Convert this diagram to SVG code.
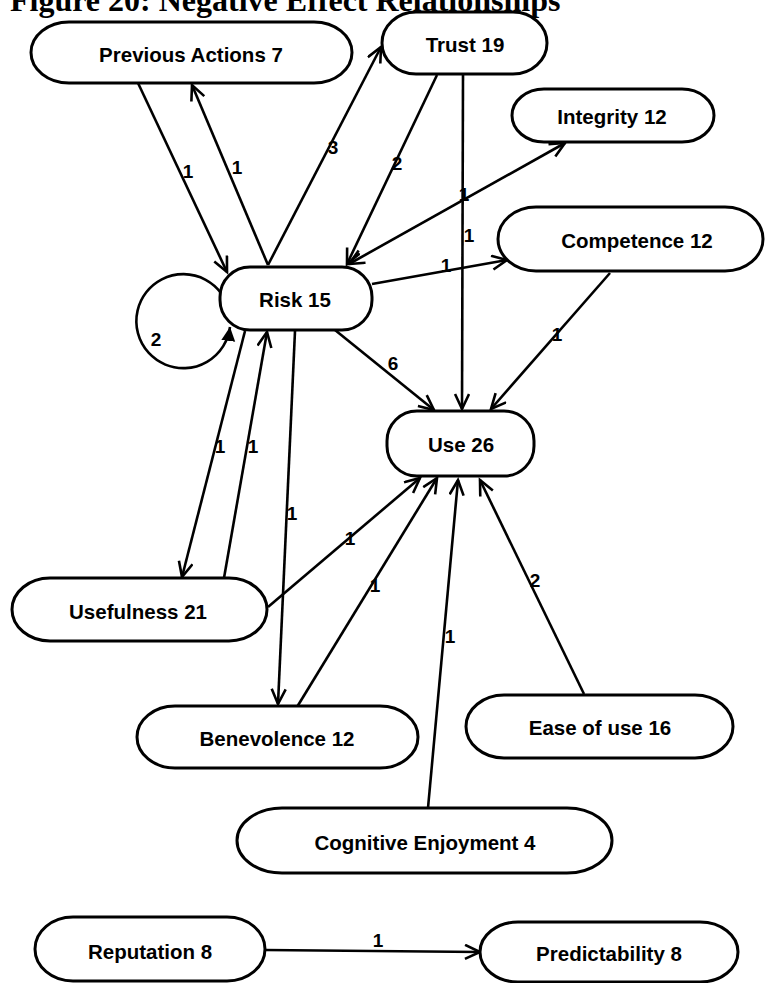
<svg xmlns="http://www.w3.org/2000/svg" width="772" height="983" viewBox="0 0 772 983">
  <style>
    .node rect { fill: #ffffff; stroke: #000000; stroke-width: 3; }
    .node text { font-family: "Liberation Sans", Arial, sans-serif; font-weight: bold; font-size: 20.5px; fill: #000000; text-anchor: middle; }
    .edge { fill: none; stroke: #000000; stroke-width: 2.6; }
    .lbl { font-family: "Liberation Sans", Arial, sans-serif; font-weight: bold; font-size: 19px; fill: #000000; text-anchor: middle; }
    .title { font-family: "Liberation Serif", "Times New Roman", serif; font-weight: bold; font-size: 32px; fill: #000000; }
  </style>
  <defs>
    <marker id="arrow" markerUnits="userSpaceOnUse" markerWidth="22" markerHeight="22" refX="16" refY="8" orient="auto-start-reverse">
      <path d="M1,1 L16,8 L1,15" fill="none" stroke="#000000" stroke-width="2.6" stroke-linejoin="miter"/>
    </marker>
    <marker id="solid" markerUnits="userSpaceOnUse" markerWidth="18" markerHeight="18" refX="14" refY="7" orient="auto">
      <path d="M0,0 L14,7 L0,14 Z" fill="#000000"/>
    </marker>
  </defs>

  <rect x="0" y="0" width="772" height="983" fill="#ffffff"/>

  <text class="title" x="10" y="11">Figure 20: Negative Effect Relationships</text>

  <!-- connectors -->
  <g id="connectors">
    <line class="edge" x1="138" y1="83" x2="227" y2="272" marker-end="url(#arrow)"/>
    <line class="edge" x1="268" y1="265" x2="192" y2="85" marker-end="url(#arrow)"/>
    <line class="edge" x1="268" y1="265" x2="381" y2="47" marker-end="url(#arrow)"/>
    <line class="edge" x1="437" y1="75" x2="347" y2="264" marker-end="url(#arrow)"/>
    <line class="edge" x1="349" y1="264" x2="565" y2="143" marker-start="url(#arrow)" marker-end="url(#arrow)"/>
    <line class="edge" x1="463" y1="75" x2="462" y2="409" marker-end="url(#arrow)"/>
    <line class="edge" x1="372" y1="284" x2="507" y2="260" marker-end="url(#arrow)"/>
    <line class="edge" x1="610" y1="273" x2="491" y2="409" marker-end="url(#arrow)"/>
    <line class="edge" x1="335" y1="330" x2="434" y2="410" marker-end="url(#arrow)"/>
    <path class="edge" d="M221,293 A47,47 0 1 0 230,327" marker-end="url(#solid)"/>
    <line class="edge" x1="245" y1="331" x2="182" y2="577" marker-end="url(#arrow)"/>
    <line class="edge" x1="224" y1="578" x2="267" y2="332" marker-end="url(#arrow)"/>
    <line class="edge" x1="295" y1="331" x2="278" y2="704" marker-end="url(#arrow)"/>
    <line class="edge" x1="268" y1="607" x2="420" y2="478" marker-end="url(#arrow)"/>
    <line class="edge" x1="297" y1="707" x2="437" y2="478" marker-end="url(#arrow)"/>
    <line class="edge" x1="428" y1="808" x2="458" y2="480" marker-end="url(#arrow)"/>
    <line class="edge" x1="584" y1="694" x2="480" y2="480" marker-end="url(#arrow)"/>
    <line class="edge" x1="265" y1="950" x2="480" y2="952" marker-end="url(#arrow)"/>

    <text class="lbl" x="188" y="178">1</text>
    <text class="lbl" x="237" y="174">1</text>
    <text class="lbl" x="333" y="154">3</text>
    <text class="lbl" x="397" y="170">2</text>
    <text class="lbl" x="464" y="201">1</text>
    <text class="lbl" x="469" y="242">1</text>
    <text class="lbl" x="446" y="272">1</text>
    <text class="lbl" x="557" y="341">1</text>
    <text class="lbl" x="393" y="370">6</text>
    <text class="lbl" x="156" y="346">2</text>
    <text class="lbl" x="220" y="453">1</text>
    <text class="lbl" x="253" y="453">1</text>
    <text class="lbl" x="292" y="520">1</text>
    <text class="lbl" x="350" y="545">1</text>
    <text class="lbl" x="375" y="592">1</text>
    <text class="lbl" x="450" y="643">1</text>
    <text class="lbl" x="535" y="587">2</text>
    <text class="lbl" x="378" y="947">1</text>
  </g>

  <!-- nodes -->
  <g id="previous-actions" class="node">
    <rect x="31" y="22" width="321" height="61" rx="38" ry="30.5"/>
    <text x="191" y="62">Previous Actions 7</text>
  </g>
  <g id="trust" class="node">
    <rect x="382" y="12" width="165" height="62" rx="34" ry="31"/>
    <text x="465" y="52">Trust 19</text>
  </g>
  <g id="integrity" class="node">
    <rect x="512" y="89" width="202" height="53" rx="32" ry="26.5"/>
    <text x="612" y="124">Integrity 12</text>
  </g>
  <g id="competence" class="node">
    <rect x="498" y="207" width="265" height="64" rx="38" ry="32"/>
    <text x="637" y="248">Competence 12</text>
  </g>
  <g id="risk" class="node">
    <rect x="220" y="267" width="152" height="63" rx="30" ry="30"/>
    <text x="295" y="307">Risk 15</text>
  </g>
  <g id="use" class="node">
    <rect x="387" y="411" width="147" height="65" rx="30" ry="30"/>
    <text x="461" y="452">Use 26</text>
  </g>
  <g id="usefulness" class="node">
    <rect x="12" y="578" width="255" height="63" rx="38" ry="31.5"/>
    <text x="138" y="619">Usefulness 21</text>
  </g>
  <g id="benevolence" class="node">
    <rect x="137" y="706" width="281" height="62" rx="38" ry="31"/>
    <text x="277" y="746">Benevolence 12</text>
  </g>
  <g id="ease-of-use" class="node">
    <rect x="466" y="695" width="267" height="63" rx="38" ry="31.5"/>
    <text x="600" y="735">Ease of use 16</text>
  </g>
  <g id="cognitive-enjoyment" class="node">
    <rect x="237" y="808" width="375" height="65" rx="45" ry="32.5"/>
    <text x="425" y="850">Cognitive Enjoyment 4</text>
  </g>
  <g id="reputation" class="node">
    <rect x="35" y="917" width="230" height="64" rx="38" ry="32"/>
    <text x="150" y="959">Reputation 8</text>
  </g>
  <g id="predictability" class="node">
    <rect x="480" y="922" width="258" height="60" rx="38" ry="30"/>
    <text x="609" y="961">Predictability 8</text>
  </g>
</svg>
